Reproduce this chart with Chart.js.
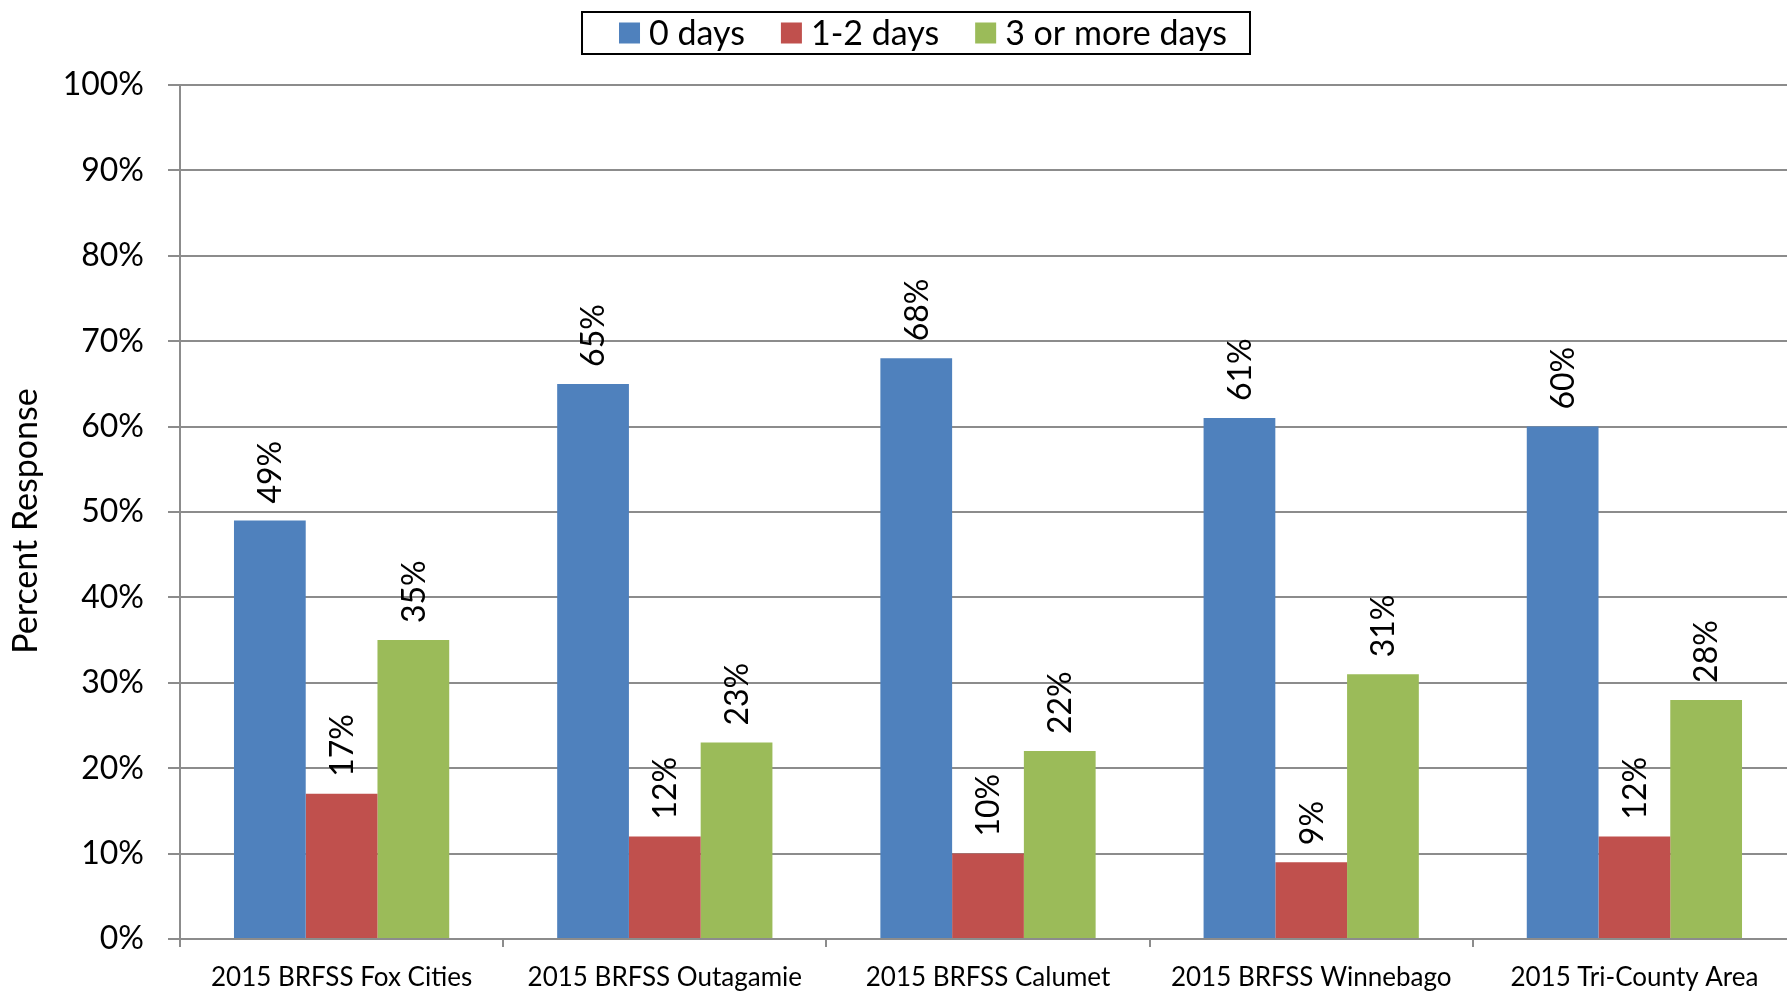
<!DOCTYPE html>
<html>
<head>
<meta charset="utf-8">
<script src="https://cdn.jsdelivr.net/npm/chart.js@4.4.1/dist/chart.umd.min.js"></script>
<style>
  html, body { margin: 0; padding: 0; background: #fff; overflow: hidden; }
  #wrap { position: absolute; left: 0; top: 0; width: 1800px; height: 991px; }
</style>
</head>
<body>
<div id="wrap"><canvas id="c" width="1800" height="991"></canvas></div>
<script>
const categories = ["2015 BRFSS Fox Cities", "2015 BRFSS Outagamie", "2015 BRFSS Calumet", "2015 BRFSS Winnebago", "2015 Tri-County Area"];
const seriesNames = ["0 days", "1-2 days", "3 or more days"];
const zeroDays = [49, 65, 68, 61, 60];
const oneTwoDays = [17, 12, 10, 9, 12];
const threePlusDays = [35, 23, 22, 31, 28];
const yTicks = [0, 10, 20, 30, 40, 50, 60, 70, 80, 90, 100];
const yAxisTitle = "Percent Response";
const colors = ["#4F81BD", "#C0504D", "#9BBB59"];

const FONT = "Lato";

const valueLabels = {
  id: "valueLabels",
  afterDatasetsDraw(chart) {
    const ctx = chart.ctx;
    ctx.save();
    ctx.font = "32px " + FONT;
    ctx.fillStyle = "#000";
    ctx.textAlign = "left";
    ctx.textBaseline = "middle";
    chart.data.datasets.forEach((ds, di) => {
      const meta = chart.getDatasetMeta(di);
      meta.data.forEach((bar, i) => {
        ctx.save();
        ctx.translate(bar.x, bar.y - 17);
        ctx.rotate(-Math.PI / 2);
        ctx.fillText(ds.data[i] + "%", 0, 1);
        ctx.restore();
      });
    });
    ctx.restore();
  }
};

const axisTitle = {
  id: "axisTitle",
  afterDraw(chart) {
    const ctx = chart.ctx;
    const area = chart.chartArea;
    ctx.save();
    ctx.font = "34px " + FONT;
    ctx.fillStyle = "#000";
    ctx.textAlign = "center";
    ctx.textBaseline = "middle";
    ctx.translate(26, (area.top + area.bottom) / 2 + 9);
    ctx.rotate(-Math.PI / 2);
    ctx.fillText(yAxisTitle, 0, 0);
    ctx.restore();
  }
};

const boxLegend = {
  id: "boxLegend",
  afterDraw(chart) {
    const ctx = chart.ctx;
    ctx.save();
    ctx.font = "34px " + FONT;
    const items = chart.data.datasets.map(d => ({ text: d.label, color: d.backgroundColor }));
    const sq = 21, gapText = 9, gapItem = 36, padL = 37, padR = 23;
    const widths = items.map(it => ctx.measureText(it.text).width);
    let content = 0;
    widths.forEach((w, i) => { content += sq + gapText + w + (i < widths.length - 1 ? gapItem : 0); });
    const boxW = content + padL + padR;
    const cx = 916;
    const boxL = cx - boxW / 2, boxT = 12, boxH = 42;
    ctx.fillStyle = "#fff";
    ctx.fillRect(boxL, boxT, boxW, boxH);
    ctx.strokeStyle = "#000";
    ctx.lineWidth = 2;
    ctx.strokeRect(boxL, boxT, boxW, boxH);
    let x = boxL + padL;
    const cy = boxT + boxH / 2;
    ctx.textBaseline = "middle";
    ctx.textAlign = "left";
    items.forEach((it, i) => {
      ctx.fillStyle = it.color;
      ctx.fillRect(x, cy - sq / 2, sq, sq);
      x += sq + gapText;
      ctx.fillStyle = "#000";
      ctx.fillText(it.text, x, cy + 1);
      x += widths[i] + gapItem;
    });
    ctx.restore();
  }
};

function draw() {
  const seriesData = [zeroDays, oneTwoDays, threePlusDays];
  new Chart(document.getElementById("c"), {
    type: "bar",
    data: {
      labels: categories,
      datasets: seriesNames.map((name, i) => ({
        label: name,
        data: seriesData[i],
        backgroundColor: colors[i],
        borderWidth: 0,
        categoryPercentage: 0.666,
        barPercentage: 1.0
      }))
    },
    options: {
      responsive: false,
      animation: false,
      devicePixelRatio: 1,
      layout: { padding: { top: 85, right: 4, left: 0, bottom: 0 } },
      plugins: {
        legend: { display: false },
        tooltip: { enabled: false }
      },
      scales: {
        x: {
          grid: {
            display: true,
            drawOnChartArea: false,
            drawTicks: true,
            tickLength: 8,
            color: "#8c8c8c",
            lineWidth: 2,
            offset: true
          },
          border: { display: true, color: "#8c8c8c", width: 2 },
          ticks: {
            color: "#000",
            font: { family: FONT, size: 26 },
            padding: 15,
            maxRotation: 0,
            autoSkip: false
          },
          afterFit(axis) { axis.height = 52; }
        },
        y: {
          min: 0,
          max: 100,
          afterBuildTicks(axis) { axis.ticks = yTicks.map(v => ({ value: v })); },
          grid: {
            color: "#8c8c8c",
            lineWidth: 2,
            drawTicks: true,
            tickLength: 12
          },
          border: { display: true, color: "#8c8c8c", width: 2 },
          ticks: {
            color: "#000",
            font: { family: FONT, size: 32 },
            padding: 24,
            callback: v => v + "%"
          },
          title: { display: false },
          afterFit(axis) { axis.width = 180; }
        }
      }
    },
    plugins: [valueLabels, axisTitle, boxLegend]
  });
}

if (document.fonts && document.fonts.load) {
  Promise.all([document.fonts.load("32px Lato"), document.fonts.load("26px Lato"), document.fonts.load("34px Lato")]).then(draw, draw);
} else {
  draw();
}
</script>
</body>
</html>
